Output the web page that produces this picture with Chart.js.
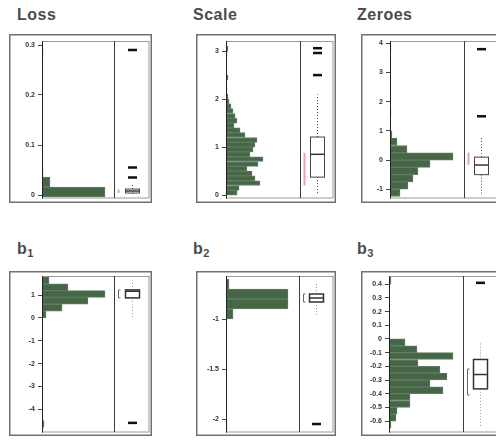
<!DOCTYPE html>
<html>
<head>
<meta charset="utf-8">
<script src="https://cdn.jsdelivr.net/npm/chart.js@4.4.1/dist/chart.umd.min.js"></script>
<style>
  html, body { margin: 0; padding: 0; background: #fff; width: 496px; height: 443px; overflow: hidden; }
  .wrap { position: relative; width: 496px; height: 443px; }
  canvas { position: absolute; }
  .ttl { position: absolute; font: bold 16px "Liberation Sans", Arial, sans-serif; line-height: 16px;
         color: #4b4b4b; letter-spacing: 0.5px; white-space: nowrap; }
  .ttl span { font-size: 11px; position: relative; top: 3px; letter-spacing: 0; }
</style>
</head>
<body>
<div class="wrap">
  <div class="ttl" style="left:17px;top:7px">Loss</div>
  <div class="ttl" style="left:193px;top:7px">Scale</div>
  <div class="ttl" style="left:357px;top:7px">Zeroes</div>
  <div class="ttl" style="left:17px;top:241px">b<span>1</span></div>
  <div class="ttl" style="left:193px;top:241px">b<span>2</span></div>
  <div class="ttl" style="left:357px;top:241px">b<span>3</span></div>

  <canvas id="cLoss"   width="143" height="169" style="left:9px;top:34px"></canvas>
  <canvas id="cScale"  width="140" height="169" style="left:196px;top:34px"></canvas>
  <canvas id="cZeroes" width="139" height="169" style="left:361px;top:34px"></canvas>
  <canvas id="cB1"     width="143" height="165" style="left:9px;top:271px"></canvas>
  <canvas id="cB2"     width="140" height="165" style="left:196px;top:271px"></canvas>
  <canvas id="cB3"     width="139" height="165" style="left:361px;top:271px"></canvas>
</div>

<script>
// ---- Loss ----
const lossBinStart = [-0.004, 0.016, 0.036, 0.276];
const lossCounts   = [63, 8, 1, 1];
const lossBox      = [0.0, 0.004, 0.008, 0.012, 0.02];   // whisker low, Q1, median, Q3, whisker high
const lossOutliers = [0.035, 0.055, 0.29];
const lossInterval = [0.004, 0.011];
const lossTicks    = [0, 0.1, 0.2, 0.3];
const lossTickLabels = ['0', '0.1', '0.2', '0.3'];

// ---- Scale ----
const scaleBinStart = [0, 0.1, 0.2, 0.3, 0.4, 0.5, 0.6, 0.7, 0.8, 0.9, 1.0, 1.1, 1.2, 1.3, 1.4,
                       1.5, 1.6, 1.7, 1.8, 1.9, 2.0, 2.1, 2.2, 2.4, 2.9, 3.0];
const scaleCounts   = [11, 13, 34, 29, 26, 21, 32, 37, 24, 27, 29, 31, 19, 14, 8,
                       11, 9, 7, 5, 3, 2, 1, 1, 2, 1, 2];
const scaleBox      = [0, 0.375, 0.85, 1.21, 2.1];
const scaleOutliers = [2.5, 2.96, 3.06];
const scaleInterval = [0.2, 0.88];
const scaleTicks    = [0, 1, 2, 3];
const scaleTickLabels = ['0', '1', '2', '3'];

// ---- Zeroes ----
const zeroesBinStart = [-1.25, -1, -0.75, -0.5, -0.25, 0, 0.25, 0.5, 0.75, 1.5, 3.75];
const zeroesCounts   = [10, 18, 23, 28, 40, 63, 17, 7, 2, 1, 1];
const zeroesBox      = [-1.2, -0.5, -0.17, 0.1, 0.8];
const zeroesOutliers = [1.5, 3.8];
const zeroesInterval = [-0.17, 0.25];
const zeroesTicks    = [-1, 0, 1, 2, 3, 4];
const zeroesTickLabels = ['-1', '0', '1', '2', '3', '4'];

// ---- b1 ----
const b1BinStart = [-4.8, 0, 0.3, 0.6, 0.9, 1.2, 1.5];
const b1Counts   = [2, 4, 20, 46, 63, 26, 7];
const b1Box      = [0.05, 0.88, 1.17, 1.23, 1.75];
const b1Outliers = [-4.6];
const b1Interval = [0.88, 1.23];
const b1Ticks    = [-4, -3, -2, -1, 0, 1];
const b1TickLabels = ['-4', '-3', '-2', '-1', '0', '1'];

// ---- b2 ----
const b2BinStart = [-2.1, -1.0, -0.9, -0.8, -0.7];
const b2Counts   = [1, 7, 62, 62, 3];
const b2Box      = [-0.96, -0.83, -0.79, -0.75, -0.65];
const b2Outliers = [-2.05];
const b2Interval = [-0.83, -0.75];
const b2Ticks    = [-2, -1.5, -1];
const b2TickLabels = ['-2', '-1.5', '-1'];

// ---- b3 ----
const b3BinStart = [-0.65, -0.6, -0.55, -0.5, -0.45, -0.4, -0.35, -0.3, -0.25, -0.2, -0.15, -0.1, -0.05, 0.4];
const b3Counts   = [2, 7, 8, 21, 21, 54, 41, 58, 51, 29, 64, 28, 16, 2];
const b3Box      = [-0.64, -0.365, -0.26, -0.15, -0.02];
const b3Outliers = [0.41];
const b3Interval = [-0.41, -0.22];
const b3Ticks    = [-0.6, -0.5, -0.4, -0.3, -0.2, -0.1, 0, 0.1, 0.2, 0.3, 0.4];
const b3TickLabels = ['-0.6', '-0.5', '-0.4', '-0.3', '-0.2', '-0.1', '0', '0.1', '0.2', '0.3', '0.4'];

// Frames, divider and the box-and-whisker column beside each histogram.
const panelDecor = {
  id: 'panelDecor',
  beforeDatasetsDraw(chart) {
    const { ctx, chartArea: a } = chart;
    const W = chart.width, H = chart.height, innerRight = W - 3;
    ctx.save();
    ctx.strokeStyle = '#707070'; ctx.lineWidth = 1.5;
    ctx.strokeRect(0.75, 0.75, W - 1.5, H - 1.5);
    ctx.strokeStyle = '#9a9a9a'; ctx.lineWidth = 1;
    ctx.strokeRect(a.left + 0.5, a.top + 0.5, innerRight - a.left - 0.5, a.bottom - a.top - 0.5);
    ctx.restore();
  },
  afterDatasetsDraw(chart, args, opts) {
    const { ctx, chartArea: a, scales: { y } } = chart;
    const innerRight = chart.width - 3;
    const py = v => y.getPixelForValue(v);
    const seg = (x1, y1, x2, y2) => { ctx.beginPath(); ctx.moveTo(x1, y1); ctx.lineTo(x2, y2); ctx.stroke(); };
    ctx.save();
    // axis and divider
    ctx.lineWidth = 1;
    ctx.strokeStyle = '#222';
    seg(a.left + 0.5, a.top, a.left + 0.5, a.bottom);
    ctx.strokeStyle = '#3c3c3c';
    seg(a.right + 0.5, a.top, a.right + 0.5, a.bottom);

    const cx = Math.round((a.right + innerRight) / 2) + 0.5;
    const [lo, q1, med, q3, hi] = opts.box;
    const half = 7;
    // whiskers
    ctx.setLineDash([1, 2]);
    ctx.strokeStyle = opts.whiskerColor; ctx.lineWidth = 1;
    seg(cx, py(q3), cx, py(hi));
    seg(cx, py(q1), cx, py(lo));
    ctx.setLineDash([]);
    // box
    ctx.fillStyle = '#fff';
    ctx.fillRect(cx - half, py(q3), half * 2, py(q1) - py(q3));
    ctx.strokeStyle = opts.boxColor; ctx.lineWidth = opts.boxLine;
    ctx.strokeRect(cx - half, py(q3), half * 2, py(q1) - py(q3));
    ctx.lineWidth = 1.5; ctx.strokeStyle = '#333';
    seg(cx - half, py(med), cx + half, py(med));
    // outliers
    ctx.fillStyle = '#111';
    opts.outliers.forEach(v => ctx.fillRect(cx - 4.5, py(v) - 1.25, 9, 2.5));
    // interval marker
    const ix = a.right + 4.5;
    ctx.strokeStyle = opts.intervalColor;
    if (opts.bracket) {
      ctx.lineWidth = 1;
      ctx.beginPath();
      ctx.moveTo(ix + 2, py(opts.interval[1])); ctx.lineTo(ix, py(opts.interval[1]));
      ctx.lineTo(ix, py(opts.interval[0])); ctx.lineTo(ix + 2, py(opts.interval[0]));
      ctx.stroke();
    } else {
      ctx.lineWidth = 2;
      seg(ix, py(opts.interval[0]), ix, py(opts.interval[1]));
    }
    ctx.restore();
  }
};

function histPanel(id, p) {
  const points = p.starts.map((s, i) => ({ x: p.counts[i], y: s + p.binWidth / 2 }));
  return new Chart(document.getElementById(id), {
    type: 'bar',
    data: {
      datasets: [{
        data: points,
        backgroundColor: '#476647',
        borderColor: '#5f7e60',
        borderWidth: 1,
        borderSkipped: 'start',
        barPercentage: 1,
        categoryPercentage: 1
      }]
    },
    options: {
      indexAxis: 'y',
      responsive: false,
      animation: false,
      events: [],
      layout: { padding: { left: 0, right: p.padRight, top: p.padTop, bottom: p.padBottom } },
      plugins: {
        legend: { display: false },
        tooltip: { enabled: false },
        panelDecor: {
          box: p.box, outliers: p.outliers, interval: p.interval,
          bracket: p.bracket, intervalColor: p.intervalColor,
          whiskerColor: p.whiskerColor, boxColor: p.boxColor, boxLine: p.boxLine
        }
      },
      scales: {
        x: { type: 'linear', display: false, min: 0, max: p.xMax },
        y: {
          type: 'linear', min: p.yMin, max: p.yMax, offset: false, bounds: 'data',
          afterBuildTicks: s => { s.ticks = p.ticks.map(v => ({ value: v })); },
          afterFit: s => { s.width = p.axisWidth; s.paddingTop = 0; s.paddingBottom = 0; },
          ticks: {
            autoSkip: false, padding: 3, color: '#333',
            font: { family: 'Liberation Sans', size: 7, weight: 'bold' },
            callback: (v, i) => p.tickLabels[i]
          },
          grid: { offset: false, drawOnChartArea: false, drawTicks: true, tickLength: 4, color: '#444' },
          border: { display: true, color: '#222' }
        }
      }
    },
    plugins: [panelDecor]
  });
}

const topRow = { padTop: 7, padBottom: 5, intervalColor: '#e2a0c2', bracket: false, whiskerColor: '#444', boxColor: '#444', boxLine: 1 };
const botRow = { padTop: 5, padBottom: 4, intervalColor: '#666', bracket: true, whiskerColor: '#9a9a9a', boxColor: '#333', boxLine: 1.5 };

histPanel('cLoss', Object.assign({}, topRow, {
  starts: lossBinStart, counts: lossCounts, binWidth: 0.02, xMax: 72,
  yMin: -0.006, yMax: 0.308, ticks: lossTicks, tickLabels: lossTickLabels,
  box: lossBox, outliers: lossOutliers, interval: lossInterval,
  axisWidth: 33, padRight: 38
}));
histPanel('cScale', Object.assign({}, topRow, {
  starts: scaleBinStart, counts: scaleCounts, binWidth: 0.1, xMax: 74,
  yMin: -0.06, yMax: 3.21, ticks: scaleTicks, tickLabels: scaleTickLabels,
  box: scaleBox, outliers: scaleOutliers, interval: scaleInterval,
  axisWidth: 30, padRight: 36
}));
histPanel('cZeroes', Object.assign({}, topRow, {
  starts: zeroesBinStart, counts: zeroesCounts, binWidth: 0.25, xMax: 74,
  yMin: -1.30, yMax: 4.08, ticks: zeroesTicks, tickLabels: zeroesTickLabels,
  box: zeroesBox, outliers: zeroesOutliers, interval: zeroesInterval,
  axisWidth: 29, padRight: 36
}));
histPanel('cB1', Object.assign({}, botRow, {
  starts: b1BinStart, counts: b1Counts, binWidth: 0.3, xMax: 72,
  yMin: -5.0, yMax: 1.84, ticks: b1Ticks, tickLabels: b1TickLabels,
  box: b1Box, outliers: b1Outliers, interval: b1Interval,
  axisWidth: 33, padRight: 38
}));
histPanel('cB2', Object.assign({}, botRow, {
  starts: b2BinStart, counts: b2Counts, binWidth: 0.1, xMax: 73,
  yMin: -2.13, yMax: -0.57, ticks: b2Ticks, tickLabels: b2TickLabels,
  box: b2Box, outliers: b2Outliers, interval: b2Interval,
  axisWidth: 30, padRight: 37
}));
histPanel('cB3', Object.assign({}, botRow, {
  starts: b3BinStart, counts: b3Counts, binWidth: 0.05, xMax: 74,
  yMin: -0.68, yMax: 0.46, ticks: b3Ticks, tickLabels: b3TickLabels,
  box: b3Box, outliers: b3Outliers, interval: b3Interval,
  axisWidth: 28, padRight: 37
}));
</script>
</body>
</html>
